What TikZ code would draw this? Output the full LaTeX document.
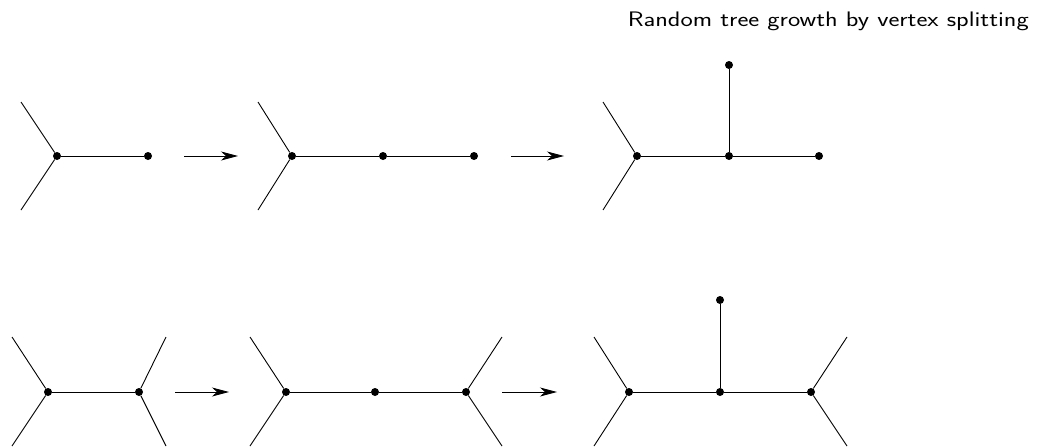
\documentclass[tikz,border=0pt]{standalone}
\usetikzlibrary{arrows.meta}
\begin{document}
\begin{tikzpicture}[x=1pt,y=-1pt,
  edge/.style={line width=0.9pt},
  dot/.style={circle,fill=black,inner sep=0pt,minimum size=8pt},
  growarrow/.style={line width=0.9pt,-{Stealth[length=17pt,width=9pt,inset=5pt]}}]
\useasboundingbox (0,0) rectangle (1039,447);
\node[anchor=east,inner sep=0pt,font=\sffamily\fontsize{21}{24}\selectfont] (title) at (1029,21) {\scalebox{1.24}[1]{Random tree growth by vertex splitting}};
% tree 1
\node[dot] (a1) at (57,156) {};
\node[dot] (a2) at (148,156) {};
\coordinate (a3) at (21,102);
\coordinate (a4) at (21,210);
\draw[edge] (a3) -- (a1) -- (a4);
\draw[edge] (a1) -- (a2);
\coordinate (r1s) at (184,156);
\coordinate (r1e) at (238,156);
\draw[growarrow] (r1s) -- (r1e);
% tree 2
\node[dot] (b1) at (292,156) {};
\node[dot] (b2) at (383,156) {};
\node[dot] (b3) at (474,156) {};
\coordinate (b4) at (258,102);
\coordinate (b5) at (258,210);
\draw[edge] (b4) -- (b1) -- (b5);
\draw[edge] (b1) -- (b2) -- (b3);
\coordinate (r2s) at (511,156);
\coordinate (r2e) at (564,156);
\draw[growarrow] (r2s) -- (r2e);
% tree 3
\node[dot] (c1) at (637,156) {};
\node[dot] (c2) at (729,156) {};
\node[dot] (c3) at (819,156) {};
\node[dot] (c6) at (729,65) {};
\coordinate (c4) at (603,102);
\coordinate (c5) at (603,210);
\draw[edge] (c4) -- (c1) -- (c5);
\draw[edge] (c1) -- (c2) -- (c3);
\draw[edge] (c2) -- (c6);
% tree 4
\node[dot] (d1) at (48,392) {};
\node[dot] (d2) at (139,392) {};
\coordinate (d3) at (12,337);
\coordinate (d4) at (12,446);
\coordinate (d5) at (166,337);
\coordinate (d6) at (166,446);
\draw[edge] (d3) -- (d1) -- (d4);
\draw[edge] (d5) -- (d2) -- (d6);
\draw[edge] (d1) -- (d2);
\coordinate (r3s) at (175,392);
\coordinate (r3e) at (229,392);
\draw[growarrow] (r3s) -- (r3e);
% tree 5
\node[dot] (e1) at (286,392) {};
\node[dot] (e2) at (375,392) {};
\node[dot] (e3) at (466,392) {};
\coordinate (e4) at (250,337);
\coordinate (e5) at (250,446);
\coordinate (e6) at (502,337);
\coordinate (e7) at (502,446);
\draw[edge] (e4) -- (e1) -- (e5);
\draw[edge] (e6) -- (e3) -- (e7);
\draw[edge] (e1) -- (e2) -- (e3);
\coordinate (r4s) at (502,392);
\coordinate (r4e) at (557,392);
\draw[growarrow] (r4s) -- (r4e);
% tree 6
\node[dot] (f1) at (629,392) {};
\node[dot] (f2) at (720,392) {};
\node[dot] (f3) at (811,392) {};
\node[dot] (f8) at (720,300) {};
\coordinate (f4) at (594,337);
\coordinate (f5) at (594,446);
\coordinate (f6) at (847,337);
\coordinate (f7) at (847,446);
\draw[edge] (f4) -- (f1) -- (f5);
\draw[edge] (f6) -- (f3) -- (f7);
\draw[edge] (f1) -- (f2) -- (f3);
\draw[edge] (f2) -- (f8);
\end{tikzpicture}
\end{document}
